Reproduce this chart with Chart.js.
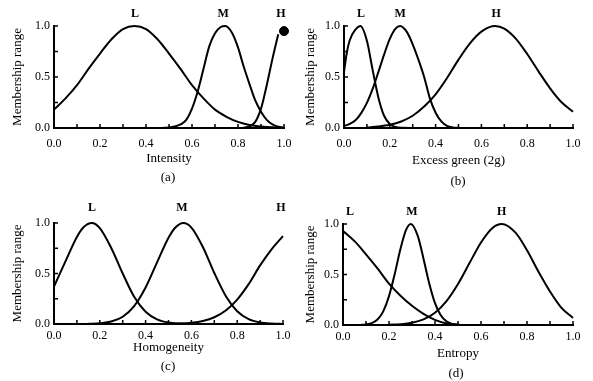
<!DOCTYPE html>
<html>
<head>
<meta charset="utf-8">
<script src="https://cdn.jsdelivr.net/npm/chart.js@4"></script>
<style>
  body { margin: 0; background: #fff; }
  #wrap { position: relative; width: 593px; height: 381px; overflow: hidden; }
  #wrap canvas { position: absolute; left: 0; top: 0; }
  .cap { position: absolute; font: 13px "Liberation Serif", serif; color: #000; transform: translate(-50%, -50%); white-space: nowrap; }
</style>
</head>
<body>
<div id="wrap">
  <canvas id="chartA" width="593" height="381"></canvas>
  <canvas id="chartB" width="593" height="381"></canvas>
  <canvas id="chartC" width="593" height="381"></canvas>
  <canvas id="chartD" width="593" height="381"></canvas>
  <div class="cap" style="left:168px;top:177px">(a)</div>
  <div class="cap" style="left:458px;top:181px">(b)</div>
  <div class="cap" style="left:168px;top:366px">(c)</div>
  <div class="cap" style="left:456px;top:373px">(d)</div>
</div>
<script>
// membership levels
const curveNames = ['L', 'M', 'H'];

// (a) Intensity
const intensityLowX  = [0, 0.05, 0.1, 0.15, 0.2, 0.25, 0.3, 0.35, 0.4, 0.45, 0.5, 0.55, 0.6, 0.65, 0.7, 0.75, 0.8, 0.85, 0.9, 0.95, 1.0];
const intensityLowY  = [0.18, 0.29, 0.42, 0.58, 0.73, 0.87, 0.97, 1.0, 0.97, 0.87, 0.73, 0.58, 0.42, 0.29, 0.18, 0.11, 0.06, 0.03, 0.015, 0.007, 0.003];
const intensityMedX  = [0.45, 0.5, 0.525, 0.55, 0.575, 0.6, 0.625, 0.65, 0.675, 0.7, 0.725, 0.745, 0.775, 0.8, 0.825, 0.85, 0.875, 0.9, 0.925, 0.95, 0.975, 1.0];
const intensityMedY  = [0, 0.005, 0.015, 0.035, 0.08, 0.19, 0.36, 0.58, 0.8, 0.93, 0.99, 1.0, 0.93, 0.79, 0.6, 0.43, 0.27, 0.16, 0.08, 0.035, 0.012, 0.003];
const intensityHighX = [0.8, 0.825, 0.85, 0.875, 0.9, 0.925, 0.95, 0.975];
const intensityHighY = [0, 0.003, 0.015, 0.06, 0.19, 0.42, 0.68, 0.92];
const intensityBlotX = [1.0];   // ink blot at the end of H
const intensityBlotY = [0.95];
const intensityNameAt = [0.352, 0.735, 0.987];

// (b) Excess green (2g)
const greenLowX  = [0, 0.0125, 0.025, 0.05, 0.072, 0.1, 0.125, 0.15, 0.175, 0.2, 0.225, 0.25, 0.3];
const greenLowY  = [0.55, 0.74, 0.86, 0.965, 1.0, 0.855, 0.57, 0.3, 0.12, 0.04, 0.01, 0.002, 0];
const greenMedX  = [0, 0.025, 0.05, 0.075, 0.1, 0.125, 0.15, 0.175, 0.2, 0.225, 0.245, 0.275, 0.3, 0.325, 0.35, 0.375, 0.4, 0.425, 0.45, 0.475, 0.5];
const greenMedY  = [0.02, 0.04, 0.075, 0.146, 0.246, 0.383, 0.548, 0.72, 0.874, 0.974, 1.0, 0.94, 0.82, 0.67, 0.5, 0.29, 0.15, 0.065, 0.02, 0.005, 0];
const greenHighX = [0.1, 0.15, 0.2, 0.25, 0.3, 0.35, 0.4, 0.45, 0.5, 0.55, 0.6, 0.66, 0.7, 0.75, 0.8, 0.85, 0.9, 0.95, 1.0];
const greenHighY = [0.005, 0.014, 0.031, 0.064, 0.12, 0.21, 0.33, 0.49, 0.67, 0.83, 0.945, 1.0, 0.974, 0.876, 0.725, 0.553, 0.389, 0.252, 0.16];
const greenNameAt = [0.074, 0.245, 0.664];

// (c) Homogeneity
const homogLowX  = [0, 0.05, 0.1, 0.13, 0.165, 0.2, 0.25, 0.3, 0.35, 0.4, 0.45, 0.5, 0.55, 0.6, 0.65];
const homogLowY  = [0.37, 0.62, 0.862, 0.96, 1.0, 0.95, 0.753, 0.5, 0.27, 0.122, 0.046, 0.014, 0.004, 0.001, 0];
const homogMedX  = [0.15, 0.2, 0.25, 0.3, 0.35, 0.4, 0.45, 0.5, 0.53, 0.565, 0.6, 0.65, 0.7, 0.75, 0.8, 0.85, 0.9, 0.95, 1.0];
const homogMedY  = [0.002, 0.007, 0.024, 0.072, 0.177, 0.361, 0.61, 0.853, 0.955, 1.0, 0.955, 0.763, 0.505, 0.278, 0.126, 0.048, 0.015, 0.004, 0.001];
const homogHighX = [0.5, 0.55, 0.6, 0.65, 0.7, 0.75, 0.8, 0.85, 0.9, 0.95, 1.0];
const homogHighY = [0, 0.004, 0.012, 0.03, 0.067, 0.134, 0.242, 0.395, 0.58, 0.74, 0.87];
const homogNameAt = [0.166, 0.559, 0.991];

// (d) Entropy
const entropyLowX  = [0, 0.05, 0.1, 0.15, 0.2, 0.25, 0.3, 0.35, 0.4, 0.45, 0.5, 0.55];
const entropyLowY  = [0.93, 0.83, 0.7, 0.56, 0.41, 0.29, 0.19, 0.11, 0.05, 0.015, 0.003, 0];
const entropyMedX  = [0.075, 0.1, 0.125, 0.15, 0.175, 0.2, 0.225, 0.25, 0.275, 0.295, 0.325, 0.35, 0.375, 0.4, 0.425, 0.45, 0.475, 0.5];
const entropyMedY  = [0, 0.005, 0.018, 0.054, 0.135, 0.286, 0.506, 0.755, 0.946, 1.0, 0.882, 0.657, 0.411, 0.216, 0.096, 0.036, 0.011, 0.003];
const entropyHighX = [0.2, 0.25, 0.3, 0.35, 0.4, 0.45, 0.5, 0.55, 0.6, 0.65, 0.69, 0.75, 0.8, 0.85, 0.9, 0.95, 1.0];
const entropyHighY = [0.003, 0.008, 0.022, 0.056, 0.122, 0.237, 0.406, 0.613, 0.817, 0.961, 1.0, 0.914, 0.74, 0.527, 0.332, 0.17, 0.07];
const entropyNameAt = [0.03, 0.3, 0.69];

const xMinorTicks = [0.1, 0.2, 0.3, 0.4, 0.5, 0.6, 0.7, 0.8, 0.9, 1.0];
const yMinorTicks = [0, 0.25, 0.5, 0.75, 1.0];

const SERIF = '"Liberation Serif", "Times New Roman", serif';
const TITLE_LH = 13 * 1.2;
const TICK_LH = 12 * 1.2;

function pts(xs, ys) {
    return xs.map((x, i) => ({ x: x, y: ys[i] }));
}

function curve(xs, ys) {
    return {
        data: pts(xs, ys),
        borderColor: '#000', borderWidth: 2,
        pointRadius: 0, fill: false,
        cubicInterpolationMode: 'monotone',
        clip: 6
    };
}

// inward tick marks + the L / M / H names above the curves
const panelDecor = {
    id: 'panelDecor',
    afterDraw(chart, args, opts) {
        const ctx = chart.ctx;
        const xs = chart.scales.x, ys = chart.scales.y;
        ctx.save();
        ctx.strokeStyle = '#000';
        ctx.lineWidth = 1.5;
        ctx.beginPath();
        xMinorTicks.forEach(v => {
            const px = xs.getPixelForValue(v);
            ctx.moveTo(px, ys.bottom); ctx.lineTo(px, ys.bottom - 4);
        });
        yMinorTicks.forEach(v => {
            const py = ys.getPixelForValue(v);
            ctx.moveTo(xs.left, py); ctx.lineTo(xs.left + 4, py);
        });
        ctx.stroke();
        ctx.fillStyle = '#000';
        ctx.font = 'bold 12px ' + SERIF;
        ctx.textAlign = 'center';
        ctx.textBaseline = 'middle';
        curveNames.forEach((n, i) => {
            ctx.fillText(n, xs.getPixelForValue(opts.nameAt[i]), ys.getPixelForValue(opts.nameLevel));
        });
        ctx.restore();
    }
};

function makePanel(canvasId, box, xTitle, datasets, nameAt, nameLevel) {
    const yScaleLeft = box.yTitleX - TITLE_LH / 2;
    const xScaleBottom = box.xTitleY + TITLE_LH / 2;
    const ctx = document.getElementById(canvasId).getContext('2d');
    return new Chart(ctx, {
        type: 'line',
        data: { datasets: datasets },
        plugins: [panelDecor],
        options: {
            responsive: false, animation: false,
            layout: { padding: { left: yScaleLeft, top: box.t, right: 593 - box.r, bottom: 381 - xScaleBottom } },
            plugins: {
                legend: { display: false }, tooltip: { enabled: false },
                panelDecor: { nameAt: nameAt, nameLevel: nameLevel }
            },
            scales: {
                x: {
                    type: 'linear', min: 0, max: 1,
                    grid: { display: false, drawTicks: false },
                    border: { display: true, color: '#000', width: 2 },
                    ticks: {
                        stepSize: 0.2, autoSkip: false, maxRotation: 0, color: '#000',
                        font: { family: SERIF, size: 12 },
                        padding: box.tickY - box.b - TICK_LH / 2,
                        callback: v => v.toFixed(1)
                    },
                    title: { display: true, text: xTitle, color: '#000', padding: 0, font: { family: SERIF, size: 13 } },
                    afterFit: s => { s.height = xScaleBottom - box.b; }
                },
                y: {
                    min: 0, max: 1,
                    grid: { display: false, drawTicks: false },
                    border: { display: true, color: '#000', width: 2 },
                    ticks: {
                        stepSize: 0.5, color: '#000',
                        font: { family: SERIF, size: 12 },
                        padding: 4,
                        callback: v => v.toFixed(1)
                    },
                    title: { display: true, text: 'Membership range', color: '#000', padding: 0, font: { family: SERIF, size: 13 } },
                    afterFit: s => { s.width = box.l - yScaleLeft; }
                }
            }
        }
    });
}

const blot = {
    data: pts(intensityBlotX, intensityBlotY),
    showLine: false, pointRadius: 4.5, pointBackgroundColor: '#000', pointBorderColor: '#000', clip: false
};

makePanel('chartA', { l: 54, t: 26, r: 284, b: 128, yTitleX: 18, xTitleY: 158.5, tickY: 144 }, 'Intensity',
    [curve(intensityLowX, intensityLowY), curve(intensityMedX, intensityMedY), curve(intensityHighX, intensityHighY), blot],
    intensityNameAt, 1.12);

makePanel('chartB', { l: 344, t: 26, r: 573, b: 128, yTitleX: 311, xTitleY: 161, tickY: 144 }, 'Excess green (2g)',
    [curve(greenLowX, greenLowY), curve(greenMedX, greenMedY), curve(greenHighX, greenHighY)],
    greenNameAt, 1.12);

makePanel('chartC', { l: 54, t: 223, r: 283, b: 324, yTitleX: 18, xTitleY: 348, tickY: 336 }, 'Homogeneity',
    [curve(homogLowX, homogLowY), curve(homogMedX, homogMedY), curve(homogHighX, homogHighY)],
    homogNameAt, 1.145);

makePanel('chartD', { l: 343, t: 224, r: 573, b: 325, yTitleX: 311, xTitleY: 354, tickY: 337 }, 'Entropy',
    [curve(entropyLowX, entropyLowY), curve(entropyMedX, entropyMedY), curve(entropyHighX, entropyHighY)],
    entropyNameAt, 1.12);
</script>
</body>
</html>
